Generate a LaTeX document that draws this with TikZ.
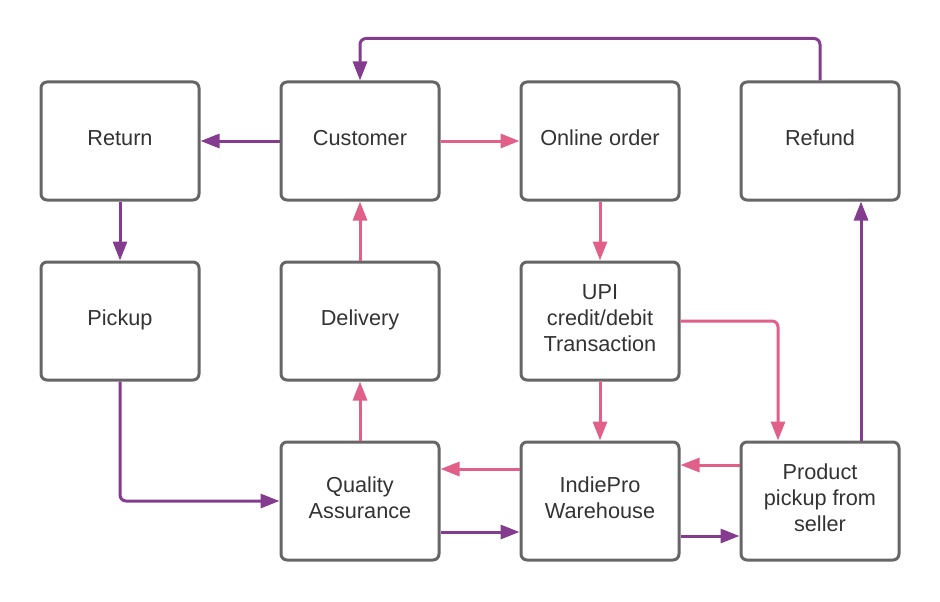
\documentclass[tikz,border=0pt]{standalone}
\usepackage{fontspec}
\setmainfont{Liberation Sans}
\usepackage{xcolor}
\usetikzlibrary{arrows.meta}
\definecolor{boxgray}{HTML}{666666}
\definecolor{textgray}{HTML}{333333}
\definecolor{linkpink}{HTML}{E0608A}
\definecolor{linkpurple}{HTML}{843C8F}
\tikzset{
  block/.style={rectangle, draw=boxgray, fill=white, line width=3pt,
    rounded corners=6pt, minimum width=158pt, minimum height=118pt,
    align=center, text=textgray, text depth=6pt,
    font=\fontsize{21.7pt}{26pt}\selectfont},
  arrow/.style={draw, line width=3pt, rounded corners=6pt,
    -{Triangle[length=19pt,width=14pt]}},
  pinkarrow/.style={arrow, linkpink},
  purplearrow/.style={arrow, linkpurple}
}
\begin{document}
\begin{tikzpicture}[node distance=240pt]
    \useasboundingbox (0,0) rectangle (940pt,-602pt);
    % Place nodes
    \node [block] at (120pt,-141pt) (return) {Return};
    \node [block, right of=return] (customer) {Customer};
    \node [block, right of=customer] (onlineOrder) {Online order};
    \node [block, right of=onlineOrder, node distance=220pt] (refund) {Refund};
%
    \node [block, below of=return, node distance=180pt] (pickup) {Pickup};
    \node [block, below of=customer, node distance=180pt] (delivery) {Delivery};
    \node [block, below of=onlineOrder, node distance=180pt] (transaction) {UPI\\credit/debit\\Transaction};
%
    \node [block, below of=delivery, node distance=180pt] (quality) {Quality\\Assurance};
    \node [block, below of=transaction, node distance=180pt] (warehouse) {IndiePro\\Warehouse};
    \node [block, below of=refund, node distance=360pt] (sellerPickup) {Product\\pickup from\\seller};
    % Connectors
    \path [purplearrow] (customer) -- (return);
    \path [pinkarrow] (customer) -- (onlineOrder);
    \path [purplearrow] (return) -- (pickup);
    \path [pinkarrow] (onlineOrder) -- (transaction);
    \path [pinkarrow] (delivery) -- (customer);
    \path [pinkarrow] (quality) -- (delivery);
    \path [purplearrow] (pickup.south) |- (quality.west);
    \path [pinkarrow] (transaction) -- (warehouse);
    \path [pinkarrow] (transaction.east) -| ([xshift=-42pt]sellerPickup.north);

    \path [pinkarrow] ([yshift=32pt]warehouse.west) -- ([yshift=32pt]quality.east);
    \path [purplearrow] ([yshift=-31pt]quality.east) -- ([yshift=-31pt]warehouse.west);
    \path [pinkarrow] ([yshift=36pt]sellerPickup.west) -- ([yshift=36pt]warehouse.east);
    \path [purplearrow] ([yshift=-35pt]warehouse.east) -- ([yshift=-35pt]sellerPickup.west);
    \path [purplearrow] ([xshift=41pt]sellerPickup.north) -- ([xshift=41pt]refund.south);
    \path [purplearrow] (refund.north) -- ++(0,42pt) -| (customer.north);
\end{tikzpicture}
\end{document}
